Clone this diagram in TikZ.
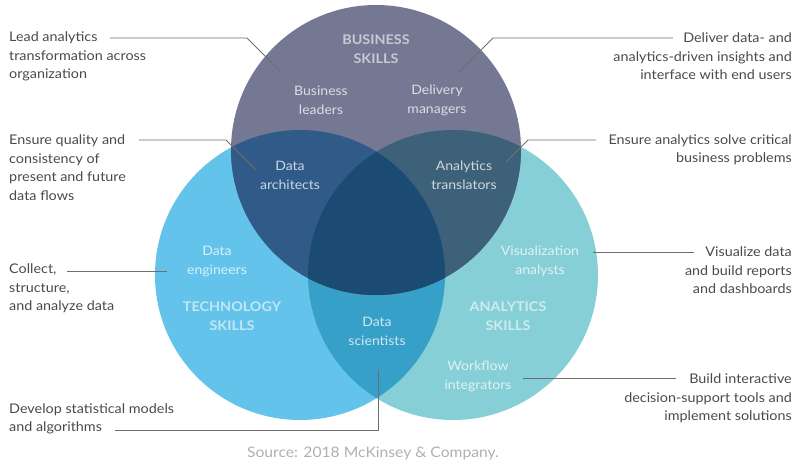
\documentclass[tikz,border=0pt]{standalone}
\usepackage{fontspec}
\setmainfont{Lato}[FakeStretch=1.08]
\definecolor{busc}{HTML}{747893}
\definecolor{techc}{HTML}{64C3EA}
\definecolor{anac}{HTML}{86CFD7}
\definecolor{btc}{HTML}{305B88}
\definecolor{bac}{HTML}{3D6179}
\definecolor{tac}{HTML}{37A0C9}
\definecolor{ctrc}{HTML}{1B4A72}
\definecolor{txtgray}{HTML}{4A4A4A}
\definecolor{linegray}{HTML}{6E6E6E}
\definecolor{srcgray}{HTML}{B0B0B0}
\begin{document}
\begin{tikzpicture}[x=1pt,y=-1pt,
  desc/.style={font=\fontsize{13.3}{18.5}\selectfont, text=txtgray, inner sep=0pt},
  role/.style={font=\fontsize{13}{18.5}\selectfont, text=white, text opacity=0.75, align=center, inner sep=0pt},
  skill/.style={font=\bfseries\fontsize{13.3}{18.5}\selectfont, text=white, text opacity=0.6, align=center, inner sep=0pt},
  leader/.style={draw=linegray, line width=0.8pt}]
\useasboundingbox (0,0) rectangle (796,463);
% circles
\fill[techc] (300,275) circle (145);
\fill[anac] (453,275) circle (145);
\begin{scope}
  \clip (300,275) circle (145);
  \fill[tac] (453,275) circle (145);
\end{scope}
\fill[busc] (376,150) circle (145);
\begin{scope}
  \clip (376,150) circle (145);
  \fill[btc] (300,275) circle (145);
  \fill[bac] (453,275) circle (145);
  \clip (300,275) circle (145);
  \fill[ctrc] (453,275) circle (145);
\end{scope}
% skill headings
\node[skill] (bus) at (376,49) {BUSINESS\\SKILLS};
\node[skill] (tech) at (232,316) {TECHNOLOGY\\SKILLS};
\node[skill] (ana) at (508,316) {ANALYTICS\\SKILLS};
% roles
\node[role] (bl) at (321,100.5) {Business\\leaders};
\node[role] (dm) at (437,100.5) {Delivery\\managers};
\node[role] (da) at (290,175.5) {Data\\architects};
\node[role] (at) at (464,175.5) {Analytics\\translators};
\node[role] (de) at (217,261.5) {Data\\engineers};
\node[role] (va) at (540,261.5) {Visualization\\analysts};
\node[role] (ds) at (377,331.5) {Data\\scientists};
\node[role] (wi) at (478,376.5) {Workflow\\integrators};
% descriptions left
\node[desc, align=left, anchor=west] (d1) at (9,56.5) {Lead analytics\\transformation across\\organization};
\node[desc, align=left, anchor=west] (d2) at (9,167.5) {Ensure quality and\\consistency of\\present and future\\data flows};
\node[desc, align=left, anchor=west] (d3) at (9,288.5) {Collect,\\structure,\\and analyze data};
\node[desc, align=left, anchor=west] (d4) at (9,419) {Develop statistical models\\and algorithms};
% descriptions right
\node[desc, align=right, anchor=east] (d5) at (792,56.5) {Deliver data- and\\analytics-driven insights and\\interface with end users};
\node[desc, align=right, anchor=east] (d6) at (792,149.5) {Ensure analytics solve critical\\business problems};
\node[desc, align=right, anchor=east] (d7) at (792,270.5) {Visualize data\\and build reports\\and dashboards};
\node[desc, align=right, anchor=east] (d8) at (792,398.5) {Build interactive\\decision-support tools and\\implement solutions};
% source
\node[font=\fontsize{14.5}{16}\selectfont, text=srcgray, inner sep=0pt] (src) at (373,453) {Source: 2018 McKinsey \& Company.};
% leader coordinates
\coordinate (l1a) at (110,38);  \coordinate (l1b) at (247,38);  \coordinate (l1c) at (281,72);
\coordinate (l2a) at (139,140); \coordinate (l2b) at (226,140); \coordinate (l2c) at (256,170);
\coordinate (l3a) at (673,38);  \coordinate (l3b) at (493,38);  \coordinate (l3c) at (459,72);
\coordinate (l4a) at (596,140); \coordinate (l4b) at (528,140); \coordinate (l4c) at (506,162);
\coordinate (l5a) at (67,271);  \coordinate (l5b) at (167,271);
\coordinate (l6a) at (115,430); \coordinate (l6b) at (378,430); \coordinate (l6c) at (378,370);
\coordinate (l7a) at (694,252); \coordinate (l7b) at (593,252);
\coordinate (l8a) at (676,378); \coordinate (l8b) at (523,378);
\draw[leader] (l1a) -- (l1b) -- (l1c);
\draw[leader] (l2a) -- (l2b) -- (l2c);
\draw[leader] (l3a) -- (l3b) -- (l3c);
\draw[leader] (l4a) -- (l4b) -- (l4c);
\draw[leader] (l5a) -- (l5b);
\draw[leader] (l6a) -- (l6b) -- (l6c);
\draw[leader] (l7a) -- (l7b);
\draw[leader] (l8a) -- (l8b);
\end{tikzpicture}
\end{document}
